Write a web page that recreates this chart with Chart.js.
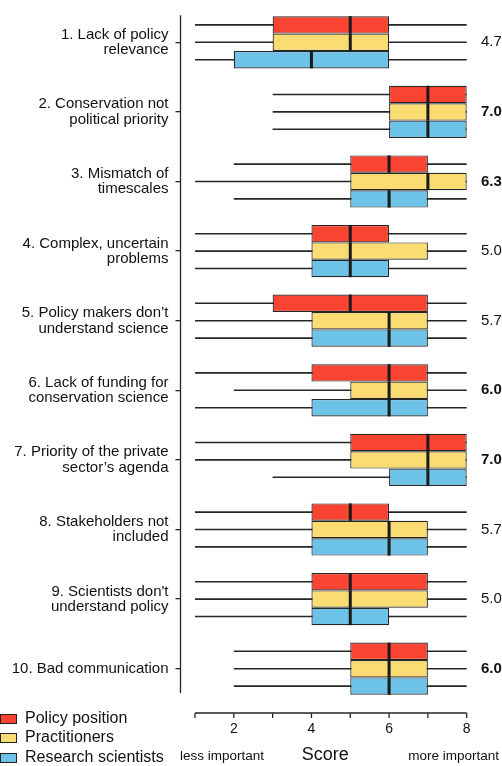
<!DOCTYPE html>
<html><head><meta charset="utf-8">
<script src="https://cdn.jsdelivr.net/npm/chart.js@4/dist/chart.umd.min.js"></script>
<style>
html,body{margin:0;padding:0;background:#fff;}
#wrap{position:relative;width:502px;height:766px;overflow:hidden;}
#c{display:block;}
.row{position:absolute;left:0;height:19px;line-height:19px;font:16px "Liberation Sans",Arial,sans-serif;color:#111;white-space:nowrap;}
.sw{position:absolute;left:0;top:5px;width:15px;height:8px;border:1px solid #222;}
.row span.t{position:absolute;left:25px;top:0;}
.note{position:absolute;font:13.5px "Liberation Sans",Arial,sans-serif;color:#111;white-space:nowrap;line-height:16px;}
</style></head><body>
<div id="wrap">
<canvas id="c" width="502" height="766"></canvas>
<div id="legend"></div>
<div class="note" id="less" style="left:180px;top:748px;">less important</div>
<div class="note" id="more" style="right:3px;top:748px;">more important</div>
</div>
<script>
// ---- data ----
const categories = [
  ["1. Lack of policy", "relevance"],
  ["2. Conservation not", "political priority"],
  ["3. Mismatch of", "timescales"],
  ["4. Complex, uncertain", "problems"],
  ["5. Policy makers don\u2019t", "understand science"],
  ["6. Lack of funding for", "conservation science"],
  ["7. Priority of the private", "sector\u2019s agenda"],
  ["8. Stakeholders not", "included"],
  ["9. Scientists don't", "understand policy"],
  "10. Bad communication"
];
const meanScores = ["4.7", "7.0", "6.3", "5.0", "5.7", "6.0", "7.0", "5.7", "5.0", "6.0"];
const significant = [false, true, true, false, false, true, true, false, false, true];
const groupNames = ["Policy position", "Practitioners", "Research scientists"];

const policyMin    = [1, 3, 2, 1, 1, 1, 1, 1, 1, 2];
const policyQ1     = [3, 6, 5, 4, 3, 4, 5, 4, 4, 5];
const policyMedian = [5, 7, 6, 5, 5, 6, 7, 5, 5, 6];
const policyQ3     = [6, 8, 7, 6, 7, 7, 8, 6, 7, 7];
const policyMax    = [8, 8, 8, 8, 8, 8, 8, 8, 8, 8];

const practMin     = [1, 3, 1, 1, 1, 2, 1, 1, 1, 2];
const practQ1      = [3, 6, 5, 4, 4, 5, 5, 4, 4, 5];
const practMedian  = [5, 7, 7, 5, 6, 6, 7, 6, 5, 6];
const practQ3      = [6, 8, 8, 7, 7, 7, 8, 7, 7, 7];
const practMax     = [8, 8, 8, 8, 8, 8, 8, 8, 8, 8];

const researchMin    = [1, 3, 2, 1, 1, 1, 3, 1, 1, 2];
const researchQ1     = [2, 6, 5, 4, 4, 4, 6, 4, 4, 5];
const researchMedian = [4, 7, 6, 5, 6, 6, 7, 6, 5, 6];
const researchQ3     = [6, 8, 7, 6, 7, 7, 8, 7, 6, 7];
const researchMax    = [8, 8, 8, 8, 8, 8, 8, 8, 8, 8];

const scoreTicks = [1, 2, 3, 4, 5, 6, 7, 8];
const scoreTickLabels = ["", "2", "", "4", "", "6", "", "8"];

// ---- styling ----
const colors = ["#f94432", "#fbdc72", "#6cc3e7"];
const dark = "#262626";
const FONT = "'Liberation Sans', Arial, Helvetica, sans-serif";

const groups = [
  {mn: policyMin, q1: policyQ1, med: policyMedian, q3: policyQ3, mx: policyMax, stack: "p"},
  {mn: practMin, q1: practQ1, med: practMedian, q3: practQ3, mx: practMax, stack: "q"},
  {mn: researchMin, q1: researchQ1, med: researchMedian, q3: researchQ3, mx: researchMax, stack: "r"}
];
const pair = (a, b) => a.map((v, i) => [v, b[i]]);

const boxSets = groups.map((g, k) => ({
  label: groupNames[k],
  data: pair(g.q1, g.q3),
  medians: g.med,
  isBox: true,
  stack: g.stack,
  backgroundColor: colors[k],
  borderColor: dark,
  borderWidth: 1.2,
  borderSkipped: false,
  categoryPercentage: 0.75,
  barPercentage: 1.0
}));
const whiskerSets = groups.map((g, k) => ({
  label: groupNames[k] + " range",
  data: pair(g.mn, g.mx),
  stack: g.stack,
  backgroundColor: dark,
  borderWidth: 0,
  categoryPercentage: 0.75,
  barPercentage: 1.0,
  maxBarThickness: 1.6
}));

const medianPlugin = {
  id: "medians",
  afterDatasetsDraw(chart) {
    const {ctx} = chart;
    const xs = chart.scales.x;
    ctx.save();
    ctx.strokeStyle = "#1a1a1a";
    ctx.lineWidth = 3;
    chart.data.datasets.forEach((ds, di) => {
      if (!ds.isBox) return;
      const meta = chart.getDatasetMeta(di);
      meta.data.forEach((el, i) => {
        const px = xs.getPixelForValue(ds.medians[i]);
        const h = el.height / 2;
        ctx.beginPath();
        ctx.moveTo(px, el.y - h);
        ctx.lineTo(px, el.y + h);
        ctx.stroke();
      });
    });
    ctx.restore();
  }
};

const axisLinePlugin = {
  id: "axisLines",
  afterDraw(chart) {
    const {ctx, chartArea} = chart;
    const xs = chart.scales.x, ys = chart.scales.y;
    ctx.save();
    ctx.strokeStyle = dark;
    ctx.lineWidth = 1.3;
    // detached y axis line
    const band = ys.getPixelForValue(1) - ys.getPixelForValue(0);
    const yTop = ys.getPixelForValue(0) - band * 0.39;
    const yBot = ys.getPixelForValue(categories.length - 1) + band * 0.35;
    ctx.beginPath();
    ctx.moveTo(chartArea.left, yTop);
    ctx.lineTo(chartArea.left, yBot);
    ctx.stroke();
    // detached x axis line with ticks
    const ay = chartArea.bottom + 9.5;
    const first = xs.getPixelForValue(scoreTicks[0]);
    const last = xs.getPixelForValue(scoreTicks[scoreTicks.length - 1]);
    ctx.beginPath();
    ctx.moveTo(first, ay);
    ctx.lineTo(last, ay);
    xs.ticks.forEach(t => {
      const px = xs.getPixelForValue(t.value);
      ctx.moveTo(px, ay);
      ctx.lineTo(px, ay + 5);
    });
    ctx.stroke();
    ctx.restore();
  }
};

const noVPad = s => { s.paddingTop = 0; s.paddingBottom = 0; };

new Chart(document.getElementById("c"), {
  type: "bar",
  data: {labels: categories, datasets: boxSets.concat(whiskerSets)},
  plugins: [medianPlugin, axisLinePlugin],
  options: {
    indexAxis: "y",
    responsive: false,
    animation: false,
    layout: {padding: {top: 7.5, left: 0, right: 0, bottom: 0}},
    plugins: {legend: {display: false}, tooltip: {enabled: false}},
    scales: {
      x: {
        type: "linear",
        min: 0.626,
        max: 8.085,
        stacked: false,
        afterBuildTicks: s => { s.ticks = scoreTicks.map(v => ({value: v})); },
        afterFit: s => { s.height = 62.5; },
        border: {display: false},
        grid: {display: false, drawTicks: false},
        ticks: {
          padding: 17,
          autoSkip: false,
          maxRotation: 0,
          color: "#111",
          font: {family: FONT, size: 14},
          callback: (v, i) => scoreTickLabels[i]
        },
        title: {display: true, text: "Score", color: "#111", font: {family: FONT, size: 18}, padding: {top: 0, bottom: 0}}
      },
      y: {
        type: "category",
        stacked: true,
        offset: true,
        position: "left",
        afterFit: s => { s.width = 180.5; noVPad(s); },
        border: {display: false},
        grid: {display: true, drawOnChartArea: false, drawTicks: true, tickLength: 5, offset: false, color: dark, lineWidth: 1.3},
        ticks: {
          padding: 7,
          autoSkip: false,
          color: "#111",
          font: {family: FONT, size: 15, lineHeight: 1.03}
        }
      },
      y2: {
        type: "category",
        labels: meanScores,
        offset: true,
        position: "right",
        afterFit: s => { s.width = 32; noVPad(s); },
        border: {display: false},
        grid: {display: false, drawTicks: false},
        ticks: {
          padding: 11,
          autoSkip: false,
          color: "#111",
          font: ctx => ({family: FONT, size: 15, weight: significant[ctx.index] ? "bold" : "normal"})
        }
      }
    }
  }
});

// HTML legend built from the group names
const lg = document.getElementById("legend");
const legendTops = [708.5, 728, 747.5];
groupNames.forEach((name, k) => {
  const row = document.createElement("div");
  row.className = "row";
  row.style.top = legendTops[k] + "px";
  const sw = document.createElement("div");
  sw.className = "sw";
  sw.style.background = colors[k];
  const t = document.createElement("span");
  t.className = "t";
  t.textContent = name;
  row.appendChild(sw);
  row.appendChild(t);
  lg.appendChild(row);
});
</script>
</body></html>
